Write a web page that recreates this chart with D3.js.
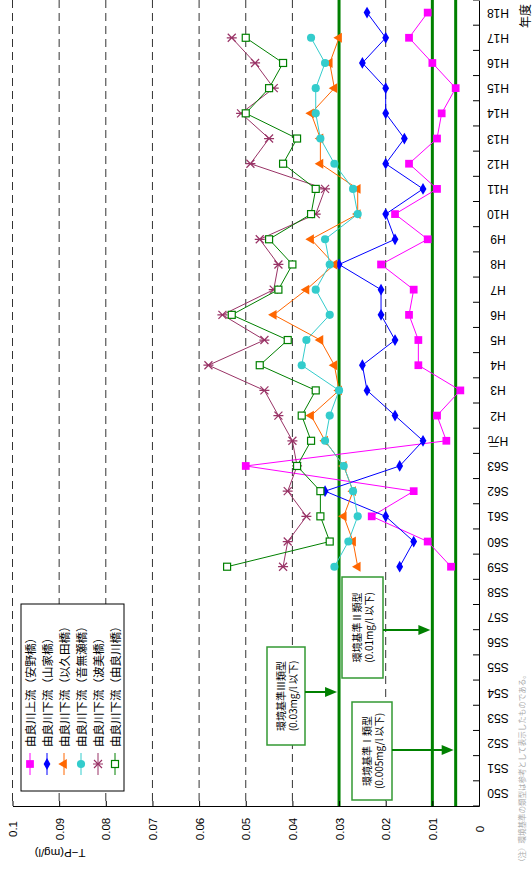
<!DOCTYPE html>
<html lang="ja">
<head>
<meta charset="UTF-8">
<title>由良川 T-P 経年変化</title>
<script src="https://cdn.jsdelivr.net/npm/d3@7"></script>
<style>
  body { margin: 0; background: #fff; }
  svg { display: block; font-family: "Liberation Sans", Arial, "Noto Sans CJK JP", sans-serif; }
  .jp { font-family: "Noto Sans CJK JP", sans-serif; }
</style>
</head>
<body>
<svg id="chart" width="532" height="870"></svg>
<script>
// 年度
const years = ["S50","S51","S52","S53","S54","S55","S56","S57","S58","S59","S60","S61","S62","S63",
  "H元","H2","H3","H4","H5","H6","H7","H8","H9","H10","H11","H12","H13","H14","H15","H16","H17","H18"];
const valueTicks = [0, 0.01, 0.02, 0.03, 0.04, 0.05, 0.06, 0.07, 0.08, 0.09, 0.1];

// T-P 年平均値 (mg/l)  S50〜S58 は欠測
const _ = null;
const anno = [_,_,_,_,_,_,_,_,_, 0.006,0.011,0.023,0.014,0.050, 0.007,0.009,0.004,0.013,0.013,0.015,0.014,0.021,0.011,0.018,0.009,0.015,0.009,0.008,0.005,0.010,0.015,0.011];
const yamaga = [_,_,_,_,_,_,_,_,_, 0.017,0.014,0.020,0.033,0.017, 0.012,0.018,0.024,0.025,0.018,0.021,0.021,0.030,0.018,0.020,0.012,0.020,0.016,0.020,0.020,0.025,0.020,0.024];
const ikuta = [_,_,_,_,_,_,_,_,_, 0.026,0.027,0.029,0.027,0.029, 0.033,0.036,0.030,0.031,0.034,0.044,0.037,0.031,0.036,0.026,0.026,0.034,0.034,0.036,0.031,0.032,0.030,_];
const otonase = [_,_,_,_,_,_,_,_,_, 0.031,0.028,0.026,0.027,0.029, 0.033,0.032,0.030,0.038,0.037,0.032,0.035,0.032,0.033,0.026,0.027,0.031,0.034,0.035,0.035,0.033,0.036,_];
const hami = [_,_,_,_,_,_,_,_,_, 0.042,0.041,0.037,0.041,0.039, 0.040,0.043,0.046,0.058,0.046,0.055,0.044,0.043,0.047,0.035,0.033,0.049,0.045,0.051,0.044,0.048,0.053,_];
const yuragawa = [_,_,_,_,_,_,_,_,_, 0.054,0.032,0.034,0.034,0.039, 0.036,0.038,0.035,0.047,0.041,0.053,0.043,0.040,0.045,0.036,0.035,0.042,0.039,0.050,0.045,0.042,0.050,_];

const seriesNames = ["由良川上流（安野橋）","由良川下流（山家橋）","由良川下流（以久田橋）",
  "由良川下流（音無瀬橋）","由良川下流（波美橋）","由良川下流（由良川橋）"];

// 環境基準
const standards = [0.03, 0.01, 0.005];
const standardNotes = [
  {lines: ["環境基準Ⅲ類型", "(0.03mg/l 以下)"], value: 0.03, box: [267, 647, 38, 98], arrowY: 692},
  {lines: ["環境基準Ⅱ類型", "(0.01mg/l 以下)"], value: 0.01, box: [342, 577, 41, 101], arrowY: 630},
  {lines: ["環境基準Ⅰ類型", "(0.005mg/l 以下)"], value: 0.005, box: [352, 702, 40, 98], arrowY: 750}
];

const series = [
  {name: seriesNames[0], values: anno, color: "#ff00ff", mark: "square"},
  {name: seriesNames[1], values: yamaga, color: "#0000ff", mark: "diamond"},
  {name: seriesNames[2], values: ikuta, color: "#ff6600", mark: "triangle"},
  {name: seriesNames[3], values: otonase, color: "#33cccc", mark: "circle"},
  {name: seriesNames[4], values: hami, color: "#993366", mark: "star"},
  {name: seriesNames[5], values: yuragawa, color: "#008000", mark: "open"}
];

const svg = d3.select("#chart");

// グラフは横倒し: 年度は下→上、値は右→左
const y = d3.scaleBand().domain(years).range([806, 0]);
const x = d3.scaleLinear().domain([0, 0.1]).range([479, 12.5]);
const bw = y.bandwidth();

// グリッド (破線)
svg.append("g").selectAll("line")
  .data(valueTicks.filter(d => d > 0))
  .enter().append("line")
  .attr("x1", d => x(d)).attr("x2", d => x(d))
  .attr("y1", 0).attr("y2", 806)
  .attr("stroke", "#333").attr("stroke-width", 1)
  .attr("stroke-dasharray", "8,5");

// 環境基準線
svg.append("g").selectAll("line")
  .data(standards)
  .enter().append("line")
  .attr("x1", d => x(d)).attr("x2", d => x(d))
  .attr("y1", 0).attr("y2", 806)
  .attr("stroke", "#008000").attr("stroke-width", 3);

// 値の軸
const xAxis = svg.append("g")
  .attr("transform", "translate(0,806)")
  .call(d3.axisBottom(x).tickValues(valueTicks).tickSize(-5).tickSizeOuter(0)
    .tickFormat(d => d === 0 ? "0" : String(+d.toFixed(2))));
xAxis.attr("font-family", null);
xAxis.select(".domain").attr("stroke", "#000");
xAxis.selectAll("text")
  .attr("y", null).attr("dy", null)
  .attr("font-size", 11.5).attr("fill", "#000")
  .attr("text-anchor", "middle").attr("dominant-baseline", "central")
  .attr("transform", "translate(0,23) rotate(-90)");

// 年度の軸
const yAxis = svg.append("g")
  .attr("transform", "translate(479,0)")
  .call(d3.axisRight(y).tickSize(0).tickSizeOuter(0));
yAxis.attr("font-family", null);
yAxis.select(".domain").attr("stroke", "#000");
yAxis.selectAll("text")
  .attr("x", null).attr("dy", null)
  .attr("font-size", 12).attr("fill", "#000")
  .attr("text-anchor", "middle").attr("dominant-baseline", "central")
  .attr("transform", "translate(19,0) rotate(180)");
yAxis.selectAll(".bound")
  .data(years.map(d => y(d) + bw).concat([y(years[years.length - 1])]))
  .enter().append("line")
  .attr("x1", -6).attr("x2", 0)
  .attr("y1", d => d).attr("y2", d => d)
  .attr("stroke", "#000");

svg.append("text")
  .attr("transform", "translate(60,853) rotate(180)")
  .attr("text-anchor", "middle").attr("dominant-baseline", "central")
  .attr("font-size", 11.5)
  .text("T−P(mg/l)");

svg.append("text").attr("class", "jp")
  .attr("transform", "translate(524,16) rotate(-90)")
  .attr("text-anchor", "middle").attr("dominant-baseline", "central")
  .attr("font-size", 12)
  .text("年度");

svg.append("text").attr("class", "jp")
  .attr("transform", "translate(521,866) rotate(-90)")
  .attr("dominant-baseline", "central")
  .attr("font-size", 7.5).attr("fill", "#aaa")
  .text("（注）環境基準の類型は参考として表示したものである。");

// マーカー
function marker(g, s) {
  if (s.mark === "square") {
    g.append("path").attr("d", d3.symbol(d3.symbolSquare, 60)()).attr("fill", s.color);
  } else if (s.mark === "diamond") {
    g.append("path").attr("d", d3.symbol(d3.symbolDiamond, 40)()).attr("fill", s.color);
  } else if (s.mark === "triangle") {
    g.append("path").attr("d", d3.symbol(d3.symbolTriangle, 42)())
      .attr("transform", "rotate(-90)").attr("fill", s.color);
  } else if (s.mark === "circle") {
    g.append("path").attr("d", d3.symbol(d3.symbolCircle, 52)()).attr("fill", s.color);
  } else if (s.mark === "star") {
    g.append("path").attr("d", "M-4,-4L4,4M-4,4L4,-4M-5,0L5,0")
      .attr("fill", "none").attr("stroke", s.color).attr("stroke-width", 1.2);
  } else {
    g.append("rect").attr("x", -3.5).attr("y", -3.5).attr("width", 7).attr("height", 7)
      .attr("fill", "#fff").attr("stroke", s.color).attr("stroke-width", 1.2);
  }
}

const line = d3.line()
  .defined(d => d.v != null)
  .x(d => x(d.v))
  .y(d => y(d.year) + bw / 2);

series.forEach(s => {
  const pts = years.map((yr, i) => ({year: yr, v: s.values[i]}));
  svg.append("path")
    .datum(pts)
    .attr("d", line)
    .attr("fill", "none")
    .attr("stroke", s.color)
    .attr("stroke-width", 1);
  svg.append("g").selectAll("g")
    .data(pts.filter(d => d.v != null))
    .enter().append("g")
    .attr("transform", d => `translate(${x(d.v)},${y(d.year) + bw / 2})`)
    .each(function () { marker(d3.select(this), s); });
});

// 凡例
const legend = svg.append("g");
legend.append("rect")
  .attr("x", 21).attr("y", 604).attr("width", 103).attr("height", 187)
  .attr("fill", "#fff").attr("stroke", "#000").attr("stroke-width", 1);
series.forEach((s, i) => {
  const cx = 30 + i * 17;
  const g = legend.append("g");
  g.append("line").attr("x1", cx).attr("x2", cx).attr("y1", 753).attr("y2", 775)
    .attr("stroke", s.color).attr("stroke-width", 1);
  marker(g.append("g").attr("transform", `translate(${cx},764)`), s);
  g.append("text").attr("class", "jp")
    .attr("transform", `translate(${cx},747) rotate(-90)`)
    .attr("dominant-baseline", "central")
    .attr("font-size", 11.5).attr("fill", "#000")
    .text(s.name);
});

// 環境基準の注記
standardNotes.forEach(n => {
  const [bx, by, bwid, bh] = n.box;
  const g = svg.append("g");
  g.append("rect").attr("x", bx).attr("y", by).attr("width", bwid).attr("height", bh)
    .attr("fill", "#fff").attr("stroke", "#339933").attr("stroke-width", 1.5);
  n.lines.forEach((t, k) => {
    g.append("text").attr("class", "jp")
      .attr("transform", `translate(${bx + bwid / 2 - 6 + k * 12},${by + bh / 2}) rotate(-90)`)
      .attr("text-anchor", "middle").attr("dominant-baseline", "central")
      .attr("font-size", 10).attr("fill", "#000")
      .text(t);
  });
  const tip = x(n.value) - 2;
  g.append("line").attr("x1", bx + bwid).attr("x2", tip - 10)
    .attr("y1", n.arrowY).attr("y2", n.arrowY)
    .attr("stroke", "#008000").attr("stroke-width", 2);
  g.append("path")
    .attr("d", `M${tip},${n.arrowY}L${tip - 12},${n.arrowY - 5}L${tip - 12},${n.arrowY + 5}Z`)
    .attr("fill", "#008000");
});
</script>
</body>
</html>
